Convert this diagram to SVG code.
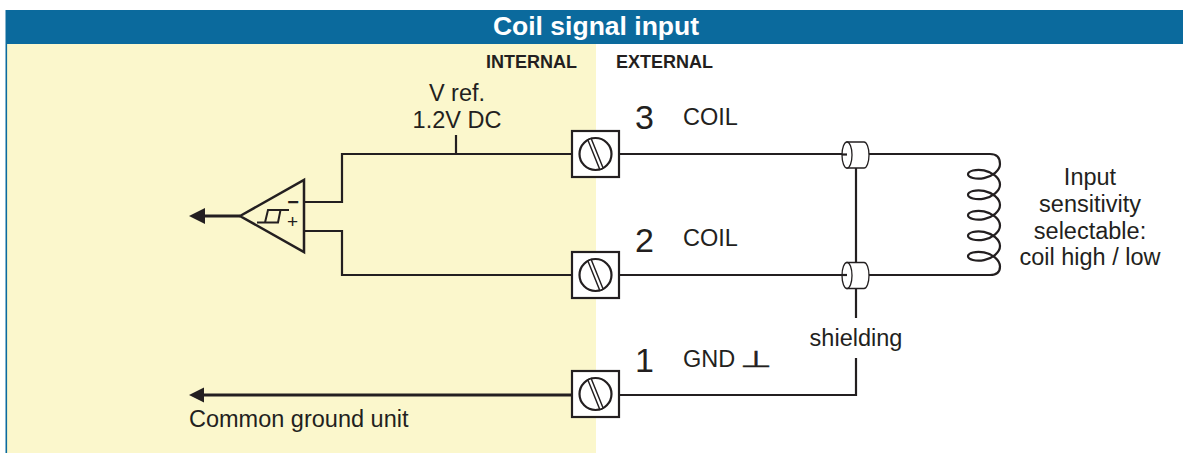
<svg xmlns="http://www.w3.org/2000/svg" xmlns:xlink="http://www.w3.org/1999/xlink" width="1183" height="453" viewBox="0 0 1183 453">
<style>
  .t { font-family: "Liberation Sans", Arial, sans-serif; fill: #231f20; font-size: 23.5px; }
  .num { font-size: 34px; }
  .lbl { font-weight: bold; font-size: 18px; }
  .title { font-family: "Liberation Sans", Arial, sans-serif; font-weight: bold; font-size: 26.5px; fill: #ffffff; }
  .w { fill: none; stroke: #231f20; stroke-width: 2.2; stroke-linejoin: miter; }
  .thick { fill: none; stroke: #231f20; stroke-width: 3; }
  .box { fill: #ffffff; stroke: #231f20; stroke-width: 2.2; }
  .scr { fill: #ffffff; stroke: #231f20; stroke-width: 2.2; }
  .slot { fill: #ffffff; stroke: #231f20; stroke-width: 1.4; }
  .fer { fill: #ffffff; stroke: #231f20; stroke-width: 1.3; }
  .ah { fill: #231f20; }
  .sign { font-family: "Liberation Sans", Arial, sans-serif; fill: #231f20; }
</style>
<defs>
  <g id="terminal">
    <rect class="box" x="-23.5" y="-23" width="47" height="46"/>
    <circle class="scr" cx="0" cy="0" r="16"/>
    <rect class="slot" x="-1.8" y="-16" width="3.6" height="32" transform="rotate(-22)"/>
  </g>
  <g id="ferrule">
    <path class="fer" d="M0,-13 H17 A5,13 0 0 1 17,13 H0 Z"/>
    <ellipse class="fer" cx="0" cy="0" rx="5" ry="13"/>
    <line x1="-5" y1="-0.5" x2="0" y2="-0.5" stroke="#231f20" stroke-width="2.2"/>
  </g>
</defs>

<!-- background panels -->
<rect x="6" y="44" width="590" height="409" fill="#fbf7cc"/>
<rect x="5.5" y="10" width="1.6" height="443" fill="#0b6a9d"/>
<rect id="header" x="6" y="10" width="1177" height="34" fill="#0b6a9d"/>
<text class="title" x="596" y="35" text-anchor="middle">Coil signal input</text>
<text class="t lbl" x="577" y="68" text-anchor="end">INTERNAL</text>
<text class="t lbl" x="616" y="68">EXTERNAL</text>

<!-- connectors -->
<g id="connectors">
  <path class="w" d="M304,202 H342 V154 H572"/>
  <path class="w" d="M456,135 V154"/>
  <path class="w" d="M304,231 H342 V275 H572"/>
  <path class="w" d="M619,154 H990 Q1000,154 1000,164
    C1000,170.42 992.38,176.41 984,178.12 C975.62,179.83 968,177.25 968,174.24 C968,171.23 975.62,168.65 984,170.36 C992.38,172.07 1000,178.06 1000,184.5
    C1000,190.92 992.38,196.91 984,198.62 C975.62,200.33 968,197.75 968,194.74 C968,191.73 975.62,189.15 984,190.86 C992.38,192.57 1000,198.56 1000,205
    C1000,211.42 992.38,217.41 984,219.12 C975.62,220.83 968,218.25 968,215.24 C968,212.23 975.62,209.65 984,211.36 C992.38,213.07 1000,219.06 1000,225.5
    C1000,231.92 992.38,237.91 984,239.62 C975.62,241.33 968,238.75 968,235.74 C968,232.73 975.62,230.15 984,231.86 C992.38,233.57 1000,239.56 1000,246
    C1000,252.42 992.38,258.41 984,260.12 C975.62,261.83 968,259.25 968,256.24 C968,253.23 975.62,250.65 984,252.36 C992.38,254.07 1000,260.06 1000,266.5
    Q1000,275 990,275 H619"/>
  <path class="w" d="M856,168 V262"/>
  <path class="w" d="M856,288 V318"/>
  <path class="w" d="M856,358 V395 H619"/>
  <path class="thick" d="M240,216 H203"/>
  <polygon class="ah" points="189,216 205,208 205,224"/>
  <path class="thick" d="M572,395 H202"/>
  <polygon class="ah" points="189,395 204,387.5 204,402.5"/>
</g>

<!-- comparator -->
<g id="comparator">
  <polygon points="240,216 304,180 304,252" fill="none" stroke="#231f20" stroke-width="2.5" stroke-linejoin="miter"/>
  <path d="M257,222.5 H278 L280.5,210 M265,222.5 L268,210 H289" fill="none" stroke="#231f20" stroke-width="2"/>
  <text class="sign" x="293" y="208.5" text-anchor="middle" font-size="20" font-weight="bold">−</text>
  <text class="sign" x="292.5" y="228" text-anchor="middle" font-size="19">+</text>
</g>

<g id="vref">
  <text class="t" x="457" y="101" text-anchor="middle">V ref.</text>
  <text class="t" x="457" y="128" text-anchor="middle">1.2V DC</text>
</g>

<g id="terminal3">
  <use xlink:href="#terminal" href="#terminal" x="595.5" y="154"/>
  <text class="t num" x="635" y="129">3</text>
  <text class="t" x="683" y="125">COIL</text>
</g>
<g id="terminal2">
  <use xlink:href="#terminal" href="#terminal" x="595.5" y="275"/>
  <text class="t num" x="635" y="252">2</text>
  <text class="t" x="683" y="246">COIL</text>
</g>
<g id="terminal1">
  <use xlink:href="#terminal" href="#terminal" x="595.5" y="394"/>
  <text class="t num" x="635" y="372">1</text>
  <text class="t" x="683" y="367">GND</text>
  <text x="0" y="0" transform="translate(740,367) scale(1.6,1)" font-family="DejaVu Sans, sans-serif" font-size="23" fill="#231f20" stroke="#231f20" stroke-width="0.4">⊥</text>
</g>

<g id="ferrule1">
  <use xlink:href="#ferrule" href="#ferrule" x="847" y="155"/>
</g>
<g id="ferrule2">
  <use xlink:href="#ferrule" href="#ferrule" x="847" y="275.5"/>
</g>
<g id="shielding">
  <text class="t" x="856" y="346" text-anchor="middle">shielding</text>
</g>

<g id="coil-note">
  <text class="t" x="1090" y="185" text-anchor="middle">Input</text>
  <text class="t" x="1090" y="212" text-anchor="middle">sensitivity</text>
  <text class="t" x="1090" y="239" text-anchor="middle">selectable:</text>
  <text class="t" x="1090" y="265" text-anchor="middle">coil high / low</text>
</g>

<g id="ground-note">
  <text class="t" x="189" y="427">Common ground unit</text>
</g>
</svg>
